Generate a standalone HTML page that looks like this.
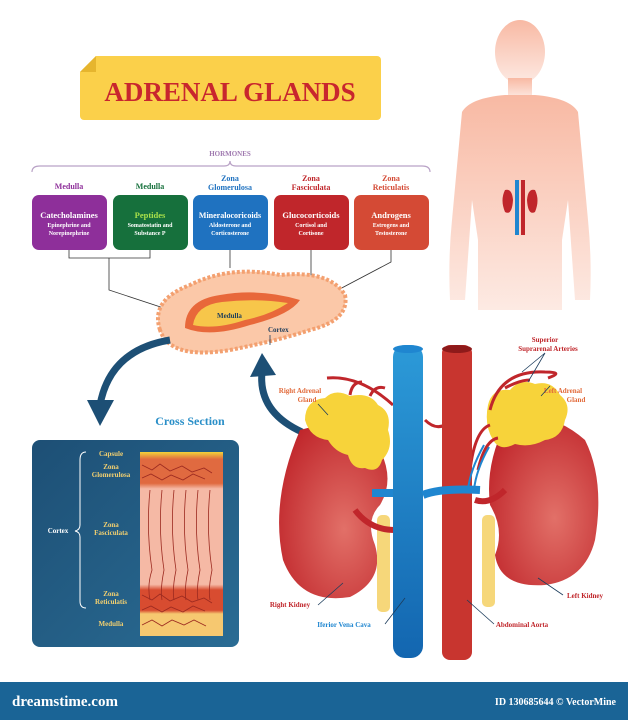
<!DOCTYPE html>
<html><head><meta charset="utf-8"><style>
body{margin:0;background:#fff}
svg{display:block}
text{font-family:"Liberation Serif",serif;font-weight:bold}
</style></head><body>
<svg width="628" height="720" viewBox="0 0 628 720" xmlns="http://www.w3.org/2000/svg">
<defs>
<linearGradient id="body" x1="0" y1="0" x2="0" y2="1"><stop offset="0" stop-color="#f8b9a3"/><stop offset="1" stop-color="#fdeae3"/></linearGradient>
<linearGradient id="panel" x1="0" y1="0" x2="1" y2="1"><stop offset="0" stop-color="#1d4f75"/><stop offset="1" stop-color="#2a6c94"/></linearGradient>
<radialGradient id="kid" cx="0.6" cy="0.6" r="0.7"><stop offset="0" stop-color="#e27068"/><stop offset="1" stop-color="#c0262b"/></radialGradient>
<linearGradient id="vc" x1="0" y1="0" x2="0" y2="1"><stop offset="0" stop-color="#2c9ad8"/><stop offset="1" stop-color="#1366b0"/></linearGradient>
<linearGradient id="tis" x1="0" y1="0" x2="0" y2="1"><stop offset="0" stop-color="#f2d23a"/><stop offset="0.04" stop-color="#e06a40"/><stop offset="0.17" stop-color="#e06a40"/><stop offset="0.2" stop-color="#f5b9a5"/><stop offset="0.72" stop-color="#f5b9a5"/><stop offset="0.75" stop-color="#d84c30"/><stop offset="0.86" stop-color="#d84c30"/><stop offset="0.88" stop-color="#f6c870"/><stop offset="1" stop-color="#f6c870"/></linearGradient>
</defs>

<!-- body silhouette -->
<g fill="url(#body)">
<ellipse cx="520" cy="52" rx="25" ry="32"/>
<rect x="508" y="78" width="24" height="20"/>
<path d="M462 112 Q470 98 505 95 L535 95 Q570 98 578 112 L588 220 Q592 260 590 300 L575 300 L568 200 L562 240 L562 310 L478 310 L478 240 L472 200 L465 300 L450 300 Q448 260 452 220 Z"/>
</g>
<path d="M505 190 Q500 200 505 212 Q512 216 513 200 Q512 188 505 190Z M535 190 Q540 200 535 212 Q528 216 527 200 Q528 188 535 190Z" fill="#c0262b"/>
<rect x="515" y="180" width="4" height="55" fill="#1f86d0"/><rect x="521" y="180" width="4" height="55" fill="#c0262b"/>

<!-- title banner -->
<rect x="80" y="56" width="301" height="64" rx="4" fill="#fbd04a"/>
<path d="M80 56 L96 56 L80 72 Z" fill="#fff"/><path d="M96 56 L96 72 L80 72 Z" fill="#e6b52e"/>
<text x="230" y="101" font-size="27" fill="#c8262e" text-anchor="middle">ADRENAL GLANDS</text>

<!-- hormones brace -->
<text x="230" y="156" font-size="7" fill="#a07ab0" text-anchor="middle">HORMONES</text>
<path d="M32 172 Q32 166 40 166 L224 166 Q230 166 230 161 Q230 166 236 166 L422 166 Q430 166 430 172" fill="none" stroke="#b9a2c6" stroke-width="1.2"/>

<g font-size="8" text-anchor="middle">
<text x="69" y="189" fill="#8e2f9a">Medulla</text>
<text x="150" y="189" fill="#16703c">Medulla</text>
<text x="230" y="181" fill="#1f72c0">Zona</text><text x="230" y="190" fill="#1f72c0">Glomerulosa</text>
<text x="311" y="181" fill="#c0262b">Zona</text><text x="311" y="190" fill="#c0262b">Fasciculata</text>
<text x="391" y="181" fill="#d44a35">Zona</text><text x="391" y="190" fill="#d44a35">Reticulatis</text>
</g>
<rect x="32" y="195" width="75" height="55" rx="7" fill="#8e2f9a"/>
<rect x="113" y="195" width="75" height="55" rx="7" fill="#16703c"/>
<rect x="193" y="195" width="75" height="55" rx="7" fill="#1f72c0"/>
<rect x="274" y="195" width="75" height="55" rx="7" fill="#c0262b"/>
<rect x="354" y="195" width="75" height="55" rx="7" fill="#d44a35"/>
<g text-anchor="middle" fill="#fff">
<text x="69" y="218" font-size="8.5">Catecholamines</text><text x="69" y="227" font-size="6">Epinephrine and</text><text x="69" y="235" font-size="6">Norepinephrine</text>
<text x="150" y="218" font-size="8.5" fill="#a8e04a">Peptides</text><text x="150" y="227" font-size="6">Somatostatin and</text><text x="150" y="235" font-size="6">Substance P</text>
<text x="230" y="218" font-size="8">Mineralocoricoids</text><text x="230" y="227" font-size="6">Aldosterone and</text><text x="230" y="235" font-size="6">Corticosterone</text>
<text x="311" y="218" font-size="8.5">Glucocorticoids</text><text x="311" y="227" font-size="6">Cortisol and</text><text x="311" y="235" font-size="6">Cortisone</text>
<text x="391" y="218" font-size="8.5">Androgens</text><text x="391" y="227" font-size="6">Estrogens and</text><text x="391" y="235" font-size="6">Testosterone</text>
</g>
<g fill="none" stroke="#333" stroke-width="0.8">
<path d="M69 250 V258 H150 V250 M109 258 V290 L200 320"/>
<path d="M230 250 V268"/><path d="M311 250 V280 L285 292"/><path d="M391 250 V262 L300 310"/>
</g>

<!-- gland -->
<path d="M160 330 Q150 300 190 285 Q230 265 280 275 Q330 270 345 295 Q350 320 310 330 Q280 340 230 350 Q170 360 160 330Z" fill="#fbc8a8" stroke="#f3a070" stroke-width="4" stroke-dasharray="3 2"/>
<path d="M185 328 Q185 300 220 295 Q260 288 300 300 Q290 315 250 325 Q210 338 185 328Z" fill="#e8683a"/>
<path d="M193 325 Q196 305 222 302 Q255 298 288 303 Q270 315 245 320 Q215 330 193 325Z" fill="#f7c64a"/>
<text x="217" y="318" font-size="7" fill="#1d3d5c" font-family="Liberation Sans">Medulla</text>
<text x="268" y="332" font-size="7" fill="#1d3d5c" font-family="Liberation Sans">Cortex</text>
<path d="M270 335 V345" stroke="#1d3d5c" stroke-width="0.8"/>

<!-- arrows -->
<path d="M170 340 Q110 350 100 405" fill="none" stroke="#1d4f75" stroke-width="7"/>
<path d="M87 400 L100 426 L114 400Z" fill="#1d4f75"/>
<path d="M302 432 Q258 412 262 372" fill="none" stroke="#1d4f75" stroke-width="7"/>
<path d="M250 377 L262 353 L276 375Z" fill="#1d4f75"/>

<text x="190" y="425" font-size="12" fill="#2a8fc8" text-anchor="middle">Cross Section</text>

<!-- panel -->
<rect x="32" y="440" width="207" height="207" rx="8" fill="url(#panel)"/>
<rect x="140" y="452" width="83" height="184" fill="url(#tis)"/>
<g stroke="#9c2a20" stroke-width="0.8" fill="none">
<path d="M150 490 Q146 530 152 570 Q147 585 150 600 M162 490 Q158 530 164 570 Q160 590 162 600 M174 490 Q170 530 176 570 Q172 590 174 600 M186 490 Q182 530 188 570 Q184 590 186 600 M198 490 Q194 530 200 570 Q196 590 198 600 M210 490 Q206 530 212 570 Q208 590 210 600"/>
<path d="M142 465 l10 5 l8 -6 l10 7 l12 -5 l10 6 l12 -4 l8 5 M142 478 l9 -4 l11 6 l9 -5 l12 5 l10 -6 l12 5 M142 595 l10 5 l8 -6 l10 7 l12 -5 l10 6 l12 -4 l8 5 M142 610 l9 -4 l11 6 l9 -5 l12 5 l10 -6 l12 5 M142 625 l10 -5 l10 6 l10 -6 l12 5 l10 -5 l12 6"/>
</g>
<g font-size="7" fill="#f3d070" text-anchor="middle">
<text x="111" y="456">Capsule</text>
<text x="111" y="469">Zona</text><text x="111" y="477">Glomerulosa</text>
<text x="111" y="527">Zona</text><text x="111" y="535">Fasciculata</text>
<text x="111" y="596">Zona</text><text x="111" y="604">Reticulatis</text>
<text x="111" y="626">Medulla</text>
<text x="58" y="533" fill="#fff">Cortex</text>
</g>
<path d="M86 452 Q80 452 80 460 L80 525 Q80 530 75 531 Q80 532 80 537 L80 601 Q80 608 86 608" fill="none" stroke="#fff" stroke-width="1"/>

<!-- kidneys -->
<path d="M300 430 Q350 415 380 450 Q395 480 380 505 Q365 520 375 545 Q385 580 350 597 Q300 605 283 560 Q270 500 300 430Z" fill="url(#kid)"/>
<path d="M505 425 Q545 405 585 440 Q605 480 595 540 Q585 580 545 585 Q500 588 495 555 Q505 530 490 505 Q485 465 505 425Z" fill="url(#kid)"/>
<rect x="377" y="515" width="13" height="97" rx="5" fill="#f6d77a"/>
<rect x="482" y="515" width="13" height="92" rx="5" fill="#f6d77a"/>
<path d="M355 510 Q370 530 395 530 M475 500 Q490 505 505 490" stroke="#c0262b" stroke-width="6" fill="none"/>
<path d="M372 493 H393" stroke="#1f86d0" stroke-width="8"/>
<!-- adrenals -->
<path d="M305 420 Q305 400 325 398 Q335 388 350 396 Q370 392 378 405 Q392 412 388 430 Q394 448 382 460 Q378 474 365 468 Q352 470 348 455 Q335 452 328 440 Q310 438 305 420Z" fill="#f7d33a"/>
<path d="M488 405 Q492 388 510 390 Q520 378 535 384 Q552 380 560 395 Q572 405 565 420 Q562 438 545 440 Q530 448 515 444 Q500 452 493 440 Q484 425 488 405Z" fill="#f7d33a"/>
<g stroke="#c0262b" stroke-width="3" fill="none">
<path d="M327 378 Q360 375 393 405 M350 395 Q352 382 362 382 M370 396 Q375 385 385 388"/>
<path d="M490 410 Q500 370 545 372 Q565 372 548 378 M505 388 Q520 380 530 380 M470 470 Q475 430 490 425 M478 470 Q485 440 498 438"/>
<path d="M425 420 Q435 430 445 425"/>
</g>
<!-- vessels -->
<rect x="393" y="345" width="30" height="313" rx="12" fill="url(#vc)"/>
<ellipse cx="408" cy="349" rx="15" ry="4" fill="#1f86d0"/>
<rect x="442" y="345" width="30" height="315" rx="8" fill="#c8352f"/>
<ellipse cx="457" cy="349" rx="15" ry="4" fill="#8e1a1a"/>
<path d="M423 495 Q440 488 480 490" stroke="#1f86d0" stroke-width="8" fill="none"/>
<path d="M484 445 Q470 470 468 490 M489 447 Q476 470 474 490" stroke="#1f86d0" stroke-width="2" fill="none"/>

<!-- labels -->
<g font-size="7" text-anchor="middle">
<text x="300" y="393" fill="#e26a3a">Right Adrenal</text><text x="307" y="402" fill="#e26a3a">Gland</text>
<text x="563" y="393" fill="#e26a3a">Left Adrenal</text><text x="576" y="402" fill="#e26a3a">Gland</text>
<text x="545" y="342" fill="#c0262b">Superior</text><text x="548" y="351" fill="#c0262b">Suprarenal Arteries</text>
<text x="290" y="607" fill="#c0262b">Right Kidney</text>
<text x="585" y="598" fill="#c0262b">Left Kidney</text>
<text x="344" y="627" fill="#1f86d0">Iferior Vena Cava</text>
<text x="522" y="627" fill="#c0262b">Abdominal Aorta</text>
</g>
<g stroke="#1d3d5c" stroke-width="0.8" fill="none">
<path d="M318 404 L328 415 M541 396 L550 386 M545 353 L522 372 M545 353 L528 382 M318 605 L343 583 M563 595 L538 578 M385 624 L405 598 M494 624 L467 600"/>
</g>

<!-- footer -->
<rect x="0" y="682" width="628" height="38" fill="#1a6496"/>
<text x="12" y="706" font-size="15" fill="#fff" font-family="Liberation Sans" font-weight="normal">dreamstime.com</text>
<text x="616" y="705" font-size="10" fill="#fff" font-family="Liberation Sans" text-anchor="end">ID 130685644 © VectorMine</text>
</svg>
</body></html>
